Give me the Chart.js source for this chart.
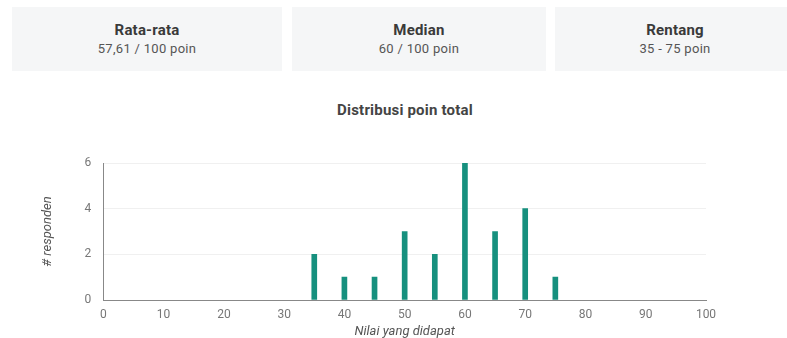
<!DOCTYPE html>
<html>
<head>
<meta charset="utf-8">
<script src="https://cdn.jsdelivr.net/npm/chart.js@4"></script>
<style>
    body { margin: 0; background: #fff; font-family: Roboto, "Noto Sans", sans-serif; width: 787px; height: 338px; overflow: hidden; position: relative; }
    .card { position: absolute; top: 7px; height: 64px; background: #f5f6f7; text-align: center; }
    .card .label { margin-top: 14px; font-size: 15px; font-weight: bold; color: #3a3a3a; letter-spacing: 0.2px; }
    .card .value { margin-top: 2px; font-size: 13px; color: #555; letter-spacing: 0.3px; }
    #chartTitle { position: absolute; left: 305px; width: 200px; top: 101px; text-align: center; font-size: 15px; font-weight: bold; color: #444; letter-spacing: 0.2px; }
    #chartWrap { position: absolute; left: 0; top: 94px; width: 787px; height: 246px; }
</style>
</head>
<body>
<div class="card" style="left:12px;width:270px"><div class="label">Rata-rata</div><div class="value">57,61 / 100 poin</div></div>
<div class="card" style="left:292px;width:254px"><div class="label">Median</div><div class="value">60 / 100 poin</div></div>
<div class="card" style="left:555px;width:240px"><div class="label">Rentang</div><div class="value">35 - 75 poin</div></div>
<div id="chartTitle"></div>
<div id="chartWrap"><canvas id="dist"></canvas></div>
<script>
// Scores and number of respondents per score
const scores = [35, 40, 45, 50, 55, 60, 65, 70, 75];
const respondents = [2, 1, 1, 3, 2, 6, 3, 4, 1];
const chartTitle = 'Distribusi poin total';
const xTitle = 'Nilai yang didapat';
const yTitle = '# responden';

document.getElementById('chartTitle').textContent = chartTitle;

const points = scores.map((s, i) => ({ x: s, y: respondents[i] }));

const ctx = document.getElementById('dist').getContext('2d');
new Chart(ctx, {
    type: 'bar',
    data: {
        datasets: [{
            data: points,
            backgroundColor: '#16907e',
            barThickness: 5
        }]
    },
    options: {
        responsive: true,
        maintainAspectRatio: false,
        animation: false,
        layout: { padding: { left: 30, right: 81, top: 69, bottom: 0 } },
        plugins: {
            legend: { display: false },
            tooltip: { enabled: false }
        },
        scales: {
            x: {
                type: 'linear',
                offset: false,
                min: 0,
                max: 100,
                ticks: { stepSize: 10, color: '#777', font: { family: 'Roboto', size: 12 }, padding: 0 },
                grid: { display: false },
                border: { color: '#888' },
                title: { display: true, text: xTitle, color: '#555', font: { family: 'Roboto', size: 13, style: 'italic' }, padding: { top: 2, bottom: 0 } }
            },
            y: {
                min: 0,
                max: 6,
                ticks: { stepSize: 2, color: '#777', font: { family: 'Roboto', size: 12 }, padding: 12 },
                grid: { color: '#f0f0f0', drawTicks: false },
                border: { color: '#888', display: true },
                title: { display: true, text: yTitle, color: '#555', font: { family: 'Roboto', size: 13, style: 'italic' }, padding: { top: 10, bottom: 17 } }
            }
        }
    }
});
</script>
</body>
</html>
